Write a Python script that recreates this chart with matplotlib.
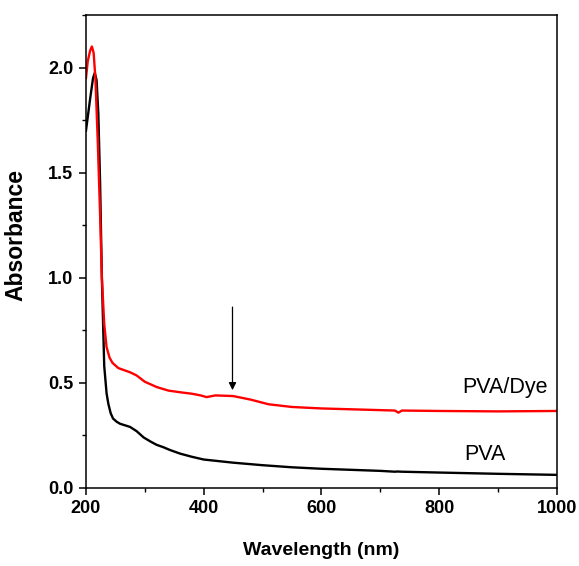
import matplotlib
matplotlib.use("Agg")
from matplotlib import pyplot as plt
from matplotlib.ticker import MultipleLocator, FormatStrFormatter

# PVA (black)
pva_x = [200, 207, 212, 215, 218, 221, 224, 227, 231, 235, 238, 242, 246, 252, 258, 266, 275,
         286, 298, 310, 320, 332, 343, 360, 380, 400, 450, 500, 550, 600, 650, 700, 725, 730,
         736, 800, 900, 1000]
pva_y = [1.70, 1.85, 1.95, 1.975, 1.94, 1.78, 1.45, 1.00, 0.58, 0.45, 0.40, 0.355, 0.33, 0.315,
         0.305, 0.298, 0.29, 0.27, 0.24, 0.22, 0.205, 0.193, 0.18, 0.163, 0.148, 0.135, 0.12,
         0.108, 0.098, 0.091, 0.086, 0.081, 0.077, 0.078, 0.077, 0.073, 0.067, 0.062]

# PVA/Dye (red)
dye_x = [200, 203, 207, 210, 213, 216, 220, 224, 227, 231, 235, 240, 245, 255, 265, 275, 286,
         300, 320, 340, 360, 380, 395, 405, 420, 450, 480, 510, 550, 600, 700, 725, 731, 737,
         800, 900, 1000]
dye_y = [1.95, 2.03, 2.08, 2.10, 2.07, 1.95, 1.65, 1.30, 1.00, 0.78, 0.67, 0.62, 0.595, 0.57,
         0.56, 0.55, 0.535, 0.505, 0.48, 0.463, 0.455, 0.448, 0.44, 0.432, 0.44, 0.437, 0.42,
         0.398, 0.385, 0.378, 0.37, 0.368, 0.358, 0.368, 0.366, 0.364, 0.366]

arrow_x = 449
arrow_top = 0.86
arrow_tip = 0.465

fig = plt.figure(figsize=(5.79, 5.66), dpi=100)
ax = fig.add_axes([0.1485, 0.138, 0.813, 0.8355])

ax.plot(pva_x, pva_y, color="black", lw=1.7)
ax.plot(dye_x, dye_y, color="#ff0000", lw=1.7)

ax.annotate("", xy=(arrow_x, arrow_tip), xytext=(arrow_x, arrow_top),
            arrowprops=dict(arrowstyle="-|>", color="black", lw=0.9,
                            mutation_scale=11, shrinkA=0, shrinkB=0))

font = ["Liberation Sans", "DejaVu Sans"]
ax.text(985, 0.48, "PVA/Dye", ha="right", va="center", fontsize=15.5, family=font)
ax.text(913, 0.157, "PVA", ha="right", va="center", fontsize=15.5, family=font)

ax.set_xlim(200, 1000)
ax.set_ylim(0, 2.25)
ax.xaxis.set_major_locator(MultipleLocator(200))
ax.xaxis.set_minor_locator(MultipleLocator(100))
ax.yaxis.set_major_locator(MultipleLocator(0.5))
ax.yaxis.set_minor_locator(MultipleLocator(0.25))
ax.yaxis.set_major_formatter(FormatStrFormatter("%.1f"))
ax.tick_params(which="major", direction="out", length=5, width=1.1, pad=4)
ax.tick_params(which="minor", direction="out", length=3, width=1.0)
for lab in ax.get_xticklabels() + ax.get_yticklabels():
    lab.set_fontsize(13)
    lab.set_fontweight("bold")
    lab.set_family(font)
for s in ax.spines.values():
    s.set_linewidth(1.1)

ax.set_xlabel("Wavelength (nm)", fontsize=14, fontweight="bold", family=font, labelpad=18)
ax.set_ylabel("Absorbance", fontsize=16.5, fontweight="bold", family=font)
ax.yaxis.set_label_coords(-0.125, 0.535)

fig.savefig("out.png", dpi=100)
